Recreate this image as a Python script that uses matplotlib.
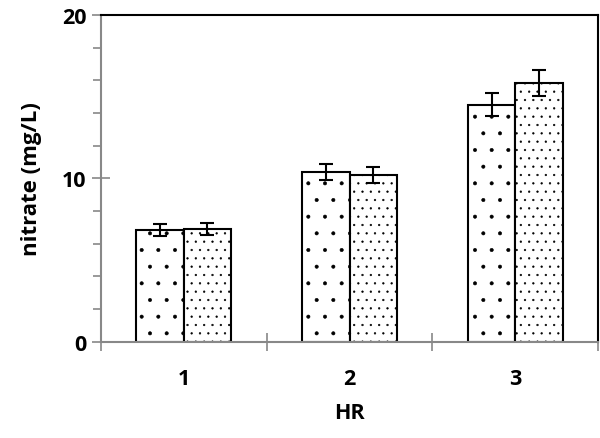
import numpy as np
import matplotlib
matplotlib.use('Agg')
import matplotlib.pyplot as plt
from matplotlib.ticker import MultipleLocator, FixedLocator

plt.rcParams['font.family'] = ['Open Sans', 'DejaVu Sans']
plt.rcParams['hatch.color'] = '#505050'
plt.rcParams['hatch.linewidth'] = 0.4

# data
groups = ['1', '2', '3']
series_a = [6.85, 10.4, 14.5]
series_a_err = [0.35, 0.5, 0.7]
series_b = [6.9, 10.2, 15.85]
series_b_err = [0.35, 0.5, 0.8]

x = np.arange(1, len(groups) + 1)
w = 0.286

fig = plt.figure(figsize=(6, 4.39), dpi=100)
ax = fig.add_axes([0.168, 0.219, 0.829, 0.745])

err_kw = dict(ecolor='black', elinewidth=1.5, capsize=5, capthick=1.5)
ax.bar(x - w / 2, series_a, w, yerr=series_a_err, color='white',
       edgecolor='black', linewidth=1.5, hatch='.', error_kw=err_kw)
ax.bar(x + w / 2, series_b, w, yerr=series_b_err, color='white',
       edgecolor='black', linewidth=1.5, hatch='..', error_kw=err_kw)

ax.set_xlim(0.5, 3.5)
ax.set_ylim(0, 20)

# y axis: major 0/10/20, minor every 2
ax.yaxis.set_major_locator(MultipleLocator(10))
ax.yaxis.set_minor_locator(MultipleLocator(2))
ax.tick_params(axis='y', which='major', direction='inout', length=13,
               width=1.2, color='#888888', labelsize=15.5, pad=4)
ax.tick_params(axis='y', which='minor', direction='out', length=6,
               width=1.2, color='#888888')

# x axis: labels at centers, tick marks between groups
ax.set_xticks(x)
ax.set_xticklabels(groups)
ax.xaxis.set_minor_locator(FixedLocator([0.5, 1.5, 2.5, 3.5]))
ax.tick_params(axis='x', which='major', length=0, labelsize=15.5, pad=19)
ax.tick_params(axis='x', which='minor', direction='inout', length=13,
               width=1.2, color='#888888')

for lbl in ax.get_xticklabels() + ax.get_yticklabels():
    lbl.set_fontweight('bold')

ax.spines['left'].set_color('#888888')
ax.spines['bottom'].set_color('#888888')
for s in ax.spines.values():
    s.set_linewidth(1.5)

ax.set_xlabel('HR', fontsize=15.5, fontweight='bold', labelpad=9)
ax.set_ylabel('nitrate (mg/L)', fontsize=16, fontweight='bold', labelpad=14)

fig.savefig('out.png', dpi=100)
